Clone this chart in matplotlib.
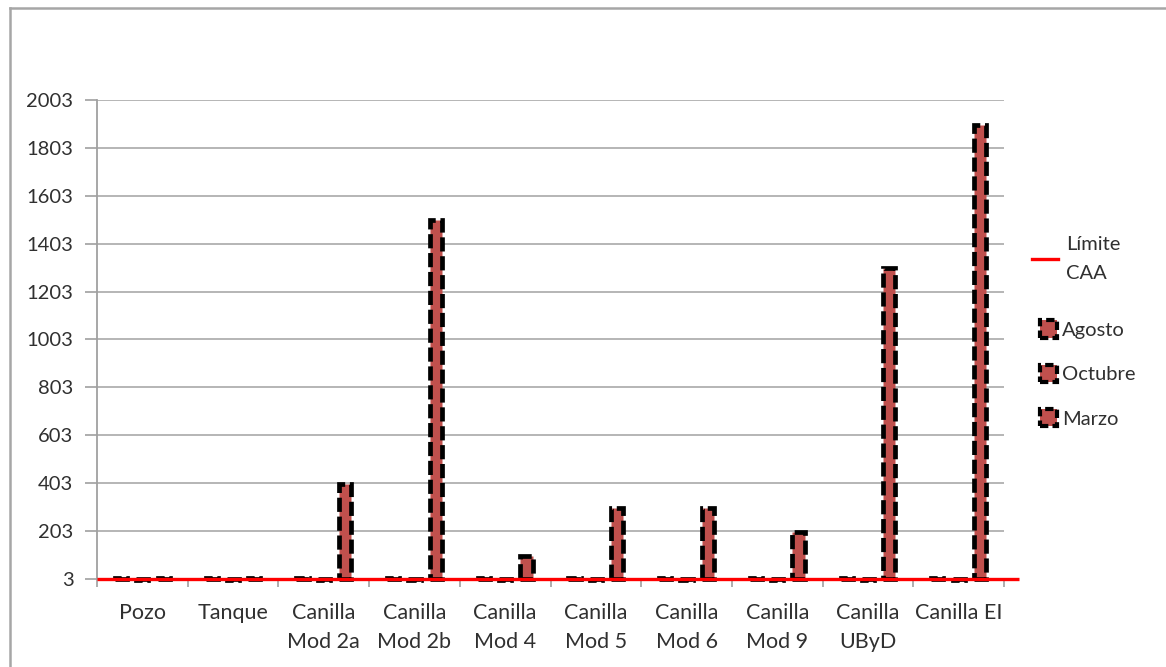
import matplotlib
matplotlib.use("Agg")
import matplotlib.pyplot as plt
import numpy as np
from matplotlib.patches import Patch, Rectangle
from matplotlib.lines import Line2D
from matplotlib.legend_handler import HandlerPatch

categories = ["Pozo", "Tanque", "Canilla\nMod 2a", "Canilla\nMod 2b", "Canilla\nMod 4",
              "Canilla\nMod 5", "Canilla\nMod 6", "Canilla\nMod 9", "Canilla\nUByD", "Canilla EI"]
agosto = [6, 6, 6, 6, 6, 6, 6, 6, 6, 6]
octubre = [0, 0, 0, 0, 0, 0, 0, 0, 0, 0]
marzo = [6, 6, 400, 1500, 100, 300, 300, 200, 1300, 1900]
limite_caa = 3
yticks = [3, 203, 403, 603, 803, 1003, 1203, 1403, 1603, 1803, 2003]

plt.rcParams['font.family'] = ['Lato', 'DejaVu Sans']
FS = 14.5
TXT = "#303030"

fig = plt.figure(figsize=(11.66, 6.67), dpi=100)
W, H = 1166, 667
ax = fig.add_axes([97 / W, 1 - 579 / H, (1004 - 97) / W, (579 - 100) / H])

fill = "#c0504d"
x = np.arange(len(categories))
bw = 0.135
off = 0.235
for vals, o, name in [(agosto, -off, "Agosto"), (octubre, 0, "Octubre"), (marzo, off, "Marzo")]:
    heights = [v - limite_caa for v in vals]
    ax.bar(x + o, heights, width=bw, bottom=limite_caa, color=fill,
           edgecolor="black", linewidth=3.4, linestyle=(0, (3, 1)),
           zorder=3, clip_on=False, label=name)

ax.plot([-0.5, 9.67], [limite_caa, limite_caa], color="#ff0000", lw=2.4,
        zorder=4, clip_on=False, solid_capstyle="butt")

ax.set_xlim(-0.5, 9.5)
ax.set_ylim(3, 2003)
ax.set_yticks(yticks)
ax.set_yticklabels([str(t) for t in yticks])
ax.set_xticks(x)
ax.set_xticklabels(categories)
ax.set_xticks(np.arange(-0.5, 10.0, 1.0), minor=True)
ax.tick_params(axis="x", which="major", length=0, pad=17, labelsize=15.5, labelcolor=TXT)
ax.tick_params(axis="x", which="minor", length=6, color="#a0a0a0", width=1.2, direction="out")
ax.tick_params(axis="y", length=9, color="#a0a0a0", width=1.2, pad=8, labelsize=FS,
               labelcolor=TXT)
for lab in ax.get_xticklabels():
    lab.set_linespacing(1.58)
ax.grid(axis="y", color="#b0b0b0", lw=1.3, zorder=0)
ax.set_axisbelow(True)
for s in ["top", "right", "bottom"]:
    ax.spines[s].set_visible(False)
ax.spines["left"].set_color("#a0a0a0")
ax.spines["left"].set_linewidth(1.3)


class SquareHandler(HandlerPatch):
    def create_artists(self, legend, orig_handle, xdescent, ydescent, width, height, fontsize, trans):
        s = 12.5
        p = Rectangle((-xdescent + (width - s) / 2, -ydescent + (height - s) / 2), s, s,
                      facecolor=fill, edgecolor="black", linewidth=3.0, linestyle=(0, (2, 1)),
                      transform=trans)
        return [p]


# legend for the limit line
leg1 = fig.legend([Line2D([], [], color="#ff0000", lw=2.4)], ["Límite\nCAA"],
                  loc="upper left", bbox_to_anchor=(1032 / W, 1 - 236 / H),
                  frameon=False, fontsize=FS, handlelength=1.3, handletextpad=0.4,
                  borderaxespad=0, borderpad=0)
leg1.get_texts()[0].set_color(TXT)
leg1.get_texts()[0].set_linespacing(1.85)

# legend for the bar series
bar_handles = [Patch(facecolor=fill, edgecolor="black") for _ in range(3)]
leg2 = fig.legend(bar_handles, ["Agosto", "Octubre", "Marzo"], loc="upper left",
                  bbox_to_anchor=(1040 / W, 1 - 322 / H),
                  frameon=False, fontsize=FS, handlelength=0.85, handletextpad=0.25,
                  labelspacing=1.35, borderaxespad=0, borderpad=0,
                  handler_map={Patch: SquareHandler()})
for t in leg2.get_texts():
    t.set_color(TXT)

# outer chart border (left and top visible)
fig.add_artist(Line2D([10 / W, 10 / W], [0, 1 - 8 / H], transform=fig.transFigure,
                      color="#a6a6a6", lw=1.8))
fig.add_artist(Line2D([10 / W, 1], [1 - 8 / H, 1 - 8 / H], transform=fig.transFigure,
                      color="#a6a6a6", lw=1.8))

fig.savefig("out.png", dpi=100)
